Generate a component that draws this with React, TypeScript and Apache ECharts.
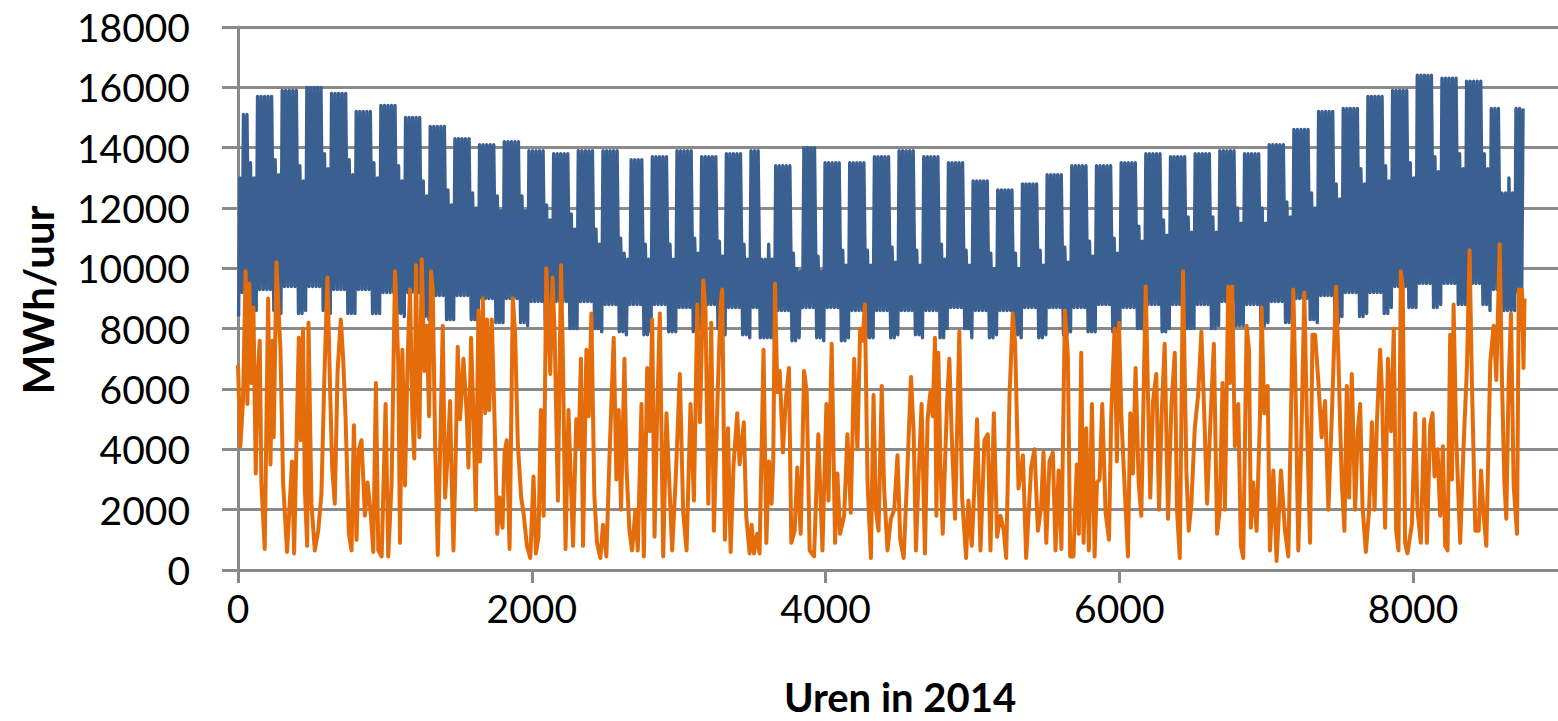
import React, { useEffect, useRef } from "react";
import * as echarts from "echarts";

// ---------- axis ticks ----------
const yTicks = [0, 2000, 4000, 6000, 8000, 10000, 12000, 14000, 16000, 18000];
const xTickLabels = [0, 2000, 4000, 6000, 8000];
const xAxisEnd = 8987; // the picture is cut off at the right just past 8000

// ---------- blue series: electricity demand (MWh/uur), read per week ----------
// week w starts on Monday = day 7*w - 2 of 2014 (1 Jan 2014 was a Wednesday)
const weekdayPeak = [
  15100, 15700, 15900, 16000, 15800, 15200, 15400,
  15000, 14700, 14300, 14100, 14200, 13900, 13800,
  13900, 13900, 13600, 13700, 13900, 13700, 13800,
  13900, 13400, 14000, 13500, 13500, 13700,
  13900, 13700, 13500, 12900, 12600, 12800, 13100,
  13400, 13400, 13500, 13800, 13700, 13800, 13900,
  13800, 14100, 14600, 15200, 15300, 15700,
  15900, 16400, 16300, 16200, 15300, 15300,
];
const saturdayPeak = [
  13500, 13600, 13400, 13800, 13600, 13500, 13400,
  12900, 12600, 12500, 12400, 12400, 12100, 11800,
  11300, 11000, 10800, 10800, 11000, 10900, 10800,
  10800, 10500, 10400, 10600, 10600, 10700,
  10600, 10800, 10600, 10500, 10500, 10600, 10700,
  10900, 11000, 11400, 11600, 11700, 11700, 12000,
  12000, 12200, 12500, 12800, 13300, 13400,
  13500, 13700, 13800, 13800, 13000, 12800,
];
const sundayPeak = [
  13000, 13100, 12900, 13300, 13100, 13000, 12900,
  12400, 12100, 12000, 11900, 11900, 11600, 11300,
  10800, 10500, 10300, 10300, 10500, 10400, 10300,
  10300, 10000, 9900, 10100, 10100, 10200,
  10100, 10300, 10100, 10000, 10000, 10100, 10200,
  10400, 10500, 10900, 11100, 11200, 11200, 11500,
  11500, 11700, 12000, 12300, 12800, 12900,
  13000, 13200, 13300, 13300, 12500, 12400,
];
const weekdayLow = [
  9200, 9300, 9400, 9400, 9300, 9300, 9200,
  9200, 9100, 9100, 9000, 9000, 8900, 8900,
  8900, 8800, 8800, 8800, 8700, 8800, 8700,
  8700, 8600, 8700, 8700, 8600, 8600,
  8600, 8600, 8700, 8600, 8600, 8700, 8700,
  8700, 8800, 8700, 8800, 8800, 8800, 8900,
  8800, 8900, 9000, 9100, 9200, 9200,
  9400, 9500, 9500, 9500, 9300, 9200,
];
const weekendLow = [
  8400, 8600, 8500, 8600, 8500, 8500, 8500,
  8400, 8300, 8300, 8200, 8200, 8100, 8000,
  8000, 7900, 7800, 7900, 7900, 8000, 7800,
  7700, 7600, 7700, 7600, 7700, 7700,
  7800, 7700, 8000, 7700, 7800, 7700, 7800,
  7900, 7900, 8000, 7900, 8000, 8000, 8100,
  8100, 8200, 8300, 8200, 8400, 8500,
  8700, 8700, 8800, 8800, 8600, 8600,
];
// days of the year (0 = 1 Jan) that look like a Sunday in the picture
const holidayDays = [0, 110, 148, 149, 159, 358, 359];

// ---------- orange series: [hour, MWh/uur], turning points ----------
const windSamples: [number, number][] = [
  [0, 6800], [16, 4100], [34, 5600], [52, 9900], [64, 5500], [77, 9500], [91, 6200], [105, 8700],
  [121, 3200], [132, 6200], [148, 7600], [159, 2900], [182, 700], [205, 9000], [221, 3500], [234, 7600],
  [243, 4400], [262, 10200], [277, 8500], [289, 7300], [307, 2900], [334, 600], [368, 3600], [382, 550],
  [414, 7700], [427, 4300], [443, 8000], [455, 2700], [471, 800], [480, 8200], [500, 2200], [523, 650],
  [546, 1300], [568, 2500], [587, 6200], [609, 9700], [625, 6400], [641, 3400], [659, 2200], [678, 6600],
  [700, 8300], [716, 7000], [732, 5100], [755, 1200], [773, 650], [789, 4800], [807, 1000], [823, 4000],
  [841, 4300], [864, 1800], [882, 2900], [905, 1800], [921, 600], [939, 6200], [955, 650], [978, 450],
  [1005, 5500], [1023, 450], [1046, 2900], [1069, 9900], [1091, 6900], [1103, 900], [1119, 7300], [1137, 2800],
  [1155, 7000], [1171, 9300], [1187, 5100], [1200, 3700], [1212, 10100], [1223, 6200], [1235, 4400], [1251, 10300],
  [1269, 6600], [1285, 8100], [1301, 5100], [1314, 9900], [1326, 9300], [1342, 4200], [1360, 500], [1376, 3900],
  [1394, 8100], [1410, 2400], [1428, 3900], [1444, 5600], [1455, 2900], [1467, 650], [1483, 4000], [1496, 7400],
  [1512, 5000], [1535, 7000], [1558, 5100], [1569, 3400], [1587, 7700], [1603, 5100], [1619, 2000], [1637, 8600],
  [1648, 3600], [1667, 9000], [1683, 5200], [1696, 8300], [1710, 5300], [1728, 8300], [1746, 5100], [1765, 1200],
  [1780, 2400], [1801, 1400], [1815, 3900], [1830, 4300], [1849, 700], [1871, 9000], [1887, 7800], [1905, 4200],
  [1928, 2400], [1944, 1900], [1967, 800], [1990, 400], [2012, 3100], [2028, 550], [2046, 1100], [2062, 5300],
  [2081, 1800], [2099, 10000], [2115, 8100], [2126, 6500], [2142, 9700], [2156, 7800], [2178, 2300], [2199, 10100],
  [2212, 7100], [2230, 700], [2250, 5300], [2281, 800], [2303, 5000], [2319, 4100], [2335, 7000], [2349, 800],
  [2372, 7300], [2388, 5100], [2406, 8500], [2426, 2500], [2444, 900], [2467, 400], [2485, 1500], [2508, 450],
  [2531, 4000], [2558, 7700], [2576, 3000], [2592, 5300], [2608, 2000], [2631, 7000], [2645, 3400], [2665, 1300],
  [2683, 650], [2706, 2000], [2722, 650], [2747, 5500], [2763, 450], [2786, 6700], [2804, 4600], [2820, 8300],
  [2836, 1100], [2854, 5200], [2872, 8500], [2895, 450], [2917, 5200], [2933, 3300], [2956, 650], [2979, 2900],
  [3008, 6500], [3031, 1900], [3054, 650], [3081, 5500], [3104, 2300], [3127, 8800], [3145, 4900], [3168, 9600],
  [3183, 8600], [3202, 2200], [3222, 8200], [3240, 1300], [3268, 6200], [3286, 8800], [3297, 9300], [3315, 1000],
  [3336, 4700], [3354, 600], [3374, 3500], [3399, 5200], [3415, 3500], [3444, 4900], [3460, 1800], [3483, 550],
  [3497, 1500], [3513, 550], [3535, 1200], [3551, 550], [3578, 7300], [3597, 900], [3615, 3600], [3633, 2200],
  [3644, 3600], [3656, 9500], [3672, 5900], [3688, 6600], [3710, 3900], [3729, 5600], [3751, 6700], [3767, 900],
  [3790, 1300], [3808, 3400], [3831, 1200], [3854, 6600], [3872, 5900], [3892, 650], [3922, 450], [3951, 4500],
  [3979, 650], [4006, 5500], [4020, 2300], [4042, 7500], [4065, 900], [4081, 3200], [4099, 1200], [4127, 1800],
  [4149, 4500], [4172, 1900], [4195, 7000], [4217, 4000], [4236, 8000], [4252, 7600], [4268, 8800], [4286, 2900],
  [4309, 400], [4327, 5800], [4343, 2000], [4361, 1300], [4383, 6100], [4399, 2700], [4422, 650], [4445, 1700],
  [4468, 2000], [4490, 3800], [4509, 1000], [4532, 400], [4554, 2900], [4582, 6400], [4600, 4600], [4616, 650],
  [4632, 2900], [4654, 5500], [4677, 550], [4695, 5000], [4714, 5900], [4730, 5100], [4745, 7700], [4755, 1800],
  [4768, 7200], [4782, 3600], [4798, 1200], [4814, 3600], [4827, 5500], [4843, 7000], [4859, 4500], [4882, 1700],
  [4911, 7900], [4930, 2400], [4957, 400], [4973, 2300], [4996, 800], [5014, 2800], [5032, 5000], [5055, 650],
  [5082, 4300], [5105, 4500], [5123, 650], [5146, 5200], [5168, 1100], [5191, 1800], [5214, 1300], [5230, 400],
  [5253, 5800], [5275, 8500], [5291, 7500], [5314, 2700], [5344, 3800], [5366, 400], [5400, 3400], [5423, 4000],
  [5446, 1300], [5468, 2100], [5484, 3900], [5503, 900], [5525, 3600], [5548, 3900], [5566, 650], [5587, 3300],
  [5606, 700], [5630, 8600], [5650, 7100], [5666, 450], [5688, 450], [5711, 3500], [5725, 1200], [5741, 7200],
  [5757, 900], [5775, 4700], [5793, 650], [5814, 5500], [5832, 450], [5848, 2900], [5866, 3000], [5884, 5500],
  [5907, 1900], [5930, 1000], [5945, 5100], [5968, 8000], [5984, 3600], [5998, 8200], [6014, 5100], [6036, 2800],
  [6059, 450], [6075, 5200], [6093, 3200], [6111, 6700], [6132, 2900], [6150, 1800], [6180, 9400], [6196, 5700],
  [6211, 2400], [6230, 5600], [6252, 6500], [6271, 2000], [6289, 5200], [6309, 7500], [6332, 1700], [6355, 5500],
  [6378, 7200], [6393, 2000], [6412, 400], [6434, 9900], [6457, 3300], [6473, 1300], [6491, 2200], [6514, 4700],
  [6537, 5800], [6559, 7900], [6577, 5400], [6598, 2200], [6616, 4400], [6644, 7500], [6666, 1200], [6684, 2000],
  [6703, 6200], [6719, 2000], [6742, 9400], [6753, 6200], [6769, 9400], [6787, 4100], [6810, 5500], [6828, 800],
  [6844, 400], [6867, 8100], [6883, 7300], [6896, 1400], [6912, 2900], [6935, 1300], [6958, 5100], [6969, 8700],
  [6987, 5200], [7010, 6100], [7026, 650], [7049, 3300], [7071, 300], [7101, 3300], [7128, 1300], [7151, 450],
  [7185, 9300], [7203, 5300], [7219, 650], [7237, 3800], [7260, 9200], [7276, 5300], [7299, 900], [7315, 7800],
  [7333, 7800], [7356, 6200], [7378, 4400], [7401, 5600], [7424, 2000], [7447, 5100], [7476, 9400], [7492, 7000],
  [7515, 2900], [7533, 1300], [7549, 6100], [7565, 2400], [7583, 6500], [7606, 2000], [7624, 4600], [7640, 5500],
  [7656, 2100], [7679, 600], [7701, 2000], [7720, 4900], [7738, 2000], [7754, 4900], [7776, 7300], [7788, 6000],
  [7810, 1400], [7829, 7000], [7850, 4600], [7869, 8000], [7885, 1300], [7901, 650], [7917, 9900], [7930, 9400],
  [7946, 900], [7962, 550], [7992, 1500], [8015, 5200], [8030, 2000], [8053, 900], [8076, 5000], [8094, 900],
  [8117, 4800], [8133, 5200], [8146, 3100], [8167, 4000], [8185, 1800], [8203, 4100], [8219, 800], [8235, 650],
  [8253, 7800], [8265, 3000], [8276, 8800], [8294, 4400], [8321, 900], [8344, 4100], [8367, 6700], [8385, 10600],
  [8401, 6200], [8424, 1300], [8447, 1300], [8463, 3300], [8481, 1800], [8499, 800], [8526, 6900], [8549, 8100],
  [8567, 6300], [8590, 10800], [8606, 6200], [8622, 2900], [8635, 1700], [8651, 6200], [8667, 8500], [8685, 2800],
  [8708, 1200], [8720, 9300], [8731, 8000], [8742, 9300], [8752, 6700], [8759, 9000],
];

const BLUE = "#3a6092";
const ORANGE = "#e46c0a";
const GRID = "#8a8a8a";

function buildDemand(): [number, number][] {
  const pts: [number, number][] = [];
  for (let d = 0; d < 365; d++) {
    const w = Math.floor((d + 2) / 7);
    let dow = (d + 2) % 7; // 0 = Monday ... 6 = Sunday
    if (holidayDays.includes(d)) dow = 6;
    const peak = dow < 5 ? weekdayPeak[w] : dow === 5 ? saturdayPeak[w] : sundayPeak[w];
    const low = dow >= 5 || dow === 0 ? weekendLow[w] : weekdayLow[w];
    pts.push([d * 24 + 4, low]);
    pts.push([d * 24 + 13, peak]);
  }
  return pts;
}

export default function App() {
  const ref = useRef<HTMLDivElement>(null);
  useEffect(() => {
    if (!ref.current) return;
    const chart = echarts.init(ref.current, undefined, { renderer: "svg" });
    const font = "Lato";
    chart.setOption({
      animation: false,
      backgroundColor: "#ffffff",
      grid: { left: 238, right: 0, top: 27, bottom: 151, containLabel: false },
      xAxis: {
        type: "value",
        min: 0,
        max: xAxisEnd,
        splitLine: { show: false },
        axisLine: { show: true, onZero: false, lineStyle: { color: GRID, width: 3 } },
        axisTick: { show: true, length: 13, customValues: xTickLabels, lineStyle: { color: GRID, width: 3 } },
        axisLabel: {
          customValues: xTickLabels,
          margin: 18,
          fontFamily: font,
          fontSize: 39,
          color: "#000",
          formatter: (v: number) => String(v),
        },
      },
      yAxis: {
        type: "value",
        min: yTicks[0],
        max: yTicks[yTicks.length - 1],
        interval: 2000,
        splitLine: { show: true, lineStyle: { color: GRID, width: 3 } },
        axisLine: { show: true, lineStyle: { color: GRID, width: 3 } },
        axisTick: { show: true, length: 16, lineStyle: { color: GRID, width: 3 } },
        axisLabel: {
          margin: 48,
          fontFamily: font,
          fontSize: 39,
          color: "#000",
          formatter: (v: number) => String(v),
        },
      },
      graphic: [
        {
          type: "text",
          x: 38,
          y: 300,
          rotation: Math.PI / 2,
          style: {
            text: "MWh/uur",
            fontFamily: font,
            fontWeight: "bold",
            fontSize: 42,
            fill: "#000",
            textAlign: "center",
            textVerticalAlign: "middle",
          },
        },
        {
          type: "text",
          x: 900,
          y: 697,
          style: {
            text: "Uren in 2014",
            fontFamily: font,
            fontWeight: "bold",
            fontSize: 40,
            fill: "#000",
            textAlign: "center",
            textVerticalAlign: "middle",
          },
        },
      ],
      series: [
        {
          name: "Vraag",
          type: "line",
          data: buildDemand(),
          showSymbol: false,
          symbol: "none",
          lineStyle: { color: BLUE, width: 3.4, join: "round" },
          itemStyle: { color: BLUE },
          z: 2,
        },
        {
          name: "Wind",
          type: "line",
          data: windSamples,
          showSymbol: false,
          symbol: "none",
          lineStyle: { color: ORANGE, width: 4, join: "round" },
          itemStyle: { color: ORANGE },
          z: 3,
        },
      ],
    });
    return () => chart.dispose();
  }, []);
  return (
    <div
      ref={ref}
      style={{ position: "absolute", left: 0, top: 0, width: 1558, height: 721, background: "#fff" }}
    />
  );
}
